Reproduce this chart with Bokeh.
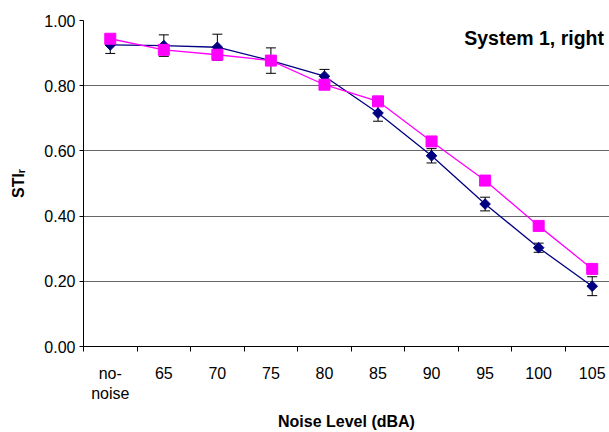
import math
from bokeh.plotting import figure
from bokeh.models import Range1d, FixedTicker, Whisker, ColumnDataSource, TeeHead, Label, NumeralTickFormatter
from bokeh.embed import file_html
from bokeh.resources import INLINE

categories = ["no-\nnoise", "65", "70", "75", "80", "85", "90", "95", "100", "105"]
positions = [1, 2, 3, 4, 5, 6, 7, 8, 9, 10]
sti_blue = [0.925, 0.923, 0.918, 0.877, 0.829, 0.716, 0.585, 0.437, 0.303, 0.185]
err_blue = [0.026, 0.033, 0.040, 0.039, 0.021, 0.025, 0.022, 0.021, 0.014, 0.029]
sti_pink = [0.944, 0.910, 0.895, 0.877, 0.803, 0.752, 0.629, 0.509, 0.370, 0.238]
y_ticks = [0.0, 0.2, 0.4, 0.6, 0.8, 1.0]

FONT = "Liberation Sans"
NAVY = "#000080"
PINK = "#FF00FF"

p = figure(width=609, height=432, x_range=Range1d(0.5, 0.5 + 9.823), y_range=Range1d(0, 1),
           output_backend="svg", toolbar_location=None,
           min_border_left=83, min_border_right=0, min_border_top=20, min_border_bottom=86)
p.outline_line_color = None
p.background_fill_color = "white"
p.border_fill_color = "white"

p.xgrid.grid_line_color = None
p.ygrid.ticker = FixedTicker(ticks=y_ticks[1:])
p.ygrid.grid_line_color = "#666666"
p.ygrid.grid_line_width = 1

# y axis
ya = p.yaxis[0]
ya.ticker = FixedTicker(ticks=y_ticks)
ya.formatter = NumeralTickFormatter(format="0.00")
ya.major_tick_out = 4
ya.major_tick_in = 0
ya.minor_tick_out = 0
ya.minor_tick_in = 0
ya.axis_line_color = "black"
ya.major_tick_line_color = "black"
ya.major_label_text_font = FONT
ya.major_label_text_font_size = "16px"
ya.major_label_text_color = "black"
ya.major_label_standoff = 4
ya.axis_label = "STI\u1d63"
ya.axis_label_text_font = FONT
ya.axis_label_text_font_size = "16px"
ya.axis_label_text_font_style = "bold"
ya.axis_label_text_color = "black"
ya.axis_label_standoff = 14

# x axis
xa = p.xaxis[0]
xa.ticker = FixedTicker(ticks=positions, minor_ticks=[i + 0.5 for i in range(10)])
xa.major_label_overrides = {pos: lab for pos, lab in zip(positions, categories)}
xa.major_tick_out = 0
xa.major_tick_in = 0
xa.minor_tick_out = 5
xa.minor_tick_in = 0
xa.minor_tick_line_color = "black"
xa.axis_line_color = "black"
xa.major_label_text_font = FONT
xa.major_label_text_font_size = "16px"
xa.major_label_text_color = "black"
xa.major_label_standoff = 13
xa.axis_label = "Noise Level (dBA)"
xa.axis_label_text_font = FONT
xa.axis_label_text_font_size = "16px"
xa.axis_label_text_font_style = "bold"
xa.axis_label_text_color = "black"
xa.axis_label_standoff = 8

# error bars
src = ColumnDataSource(dict(
    x=positions,
    upper=[v + e for v, e in zip(sti_blue, err_blue)],
    lower=[v - e for v, e in zip(sti_blue, err_blue)],
))
w = Whisker(source=src, base="x", upper="upper", lower="lower", dimension="height",
            line_color="black", line_width=1,
            upper_head=TeeHead(size=10, line_color="black", line_width=1),
            lower_head=TeeHead(size=10, line_color="black", line_width=1))
p.add_layout(w)

# series
p.line(positions, sti_blue, line_color=NAVY, line_width=1.3)
p.scatter(positions, sti_blue, marker="square", angle=math.pi / 4, size=7.5,
          fill_color=NAVY, line_color=NAVY)
p.line(positions, sti_pink, line_color=PINK, line_width=1.3)
p.scatter(positions, sti_pink, marker="square", size=11, fill_color=PINK, line_color=PINK)

p.add_layout(Label(x=10.22, y=0.945, text="System 1, right", text_align="right",
                   text_baseline="middle", text_font=FONT, text_font_size="19.5px",
                   text_font_style="bold", text_color="black"))

open("out.html", "w").write(file_html(p, INLINE))
